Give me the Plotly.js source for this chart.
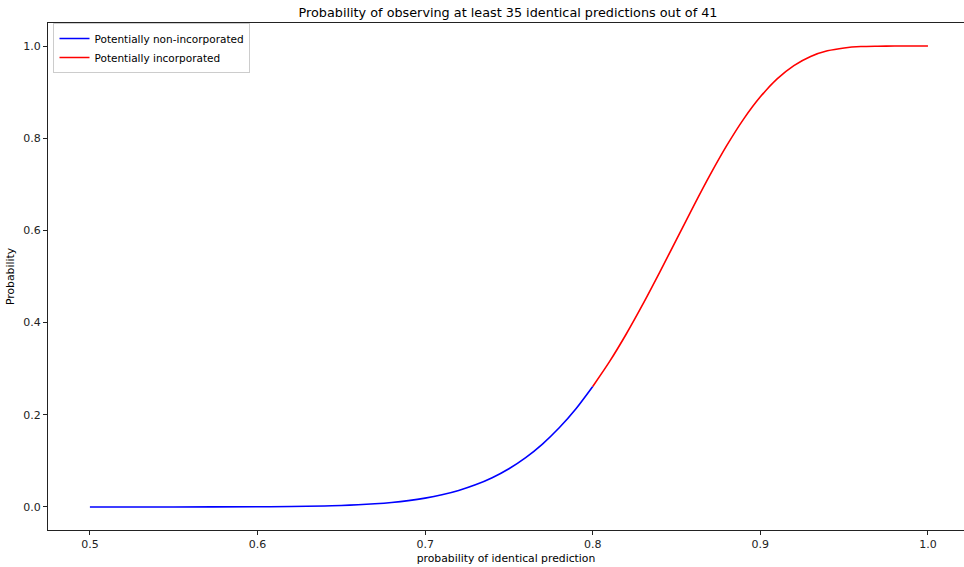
<!DOCTYPE html>
<html>
<head>
<meta charset="utf-8">
<script src="https://cdn.plot.ly/plotly-3.0.1.min.js"></script>
<style>html,body{margin:0;padding:0;background:#fff;}#chart{width:964px;height:567px;}</style>
</head>
<body>
<div id="chart"></div>
<script>
// probability of identical prediction (x) and probability of >=35 of 41 (y)
const pLow = [0.50, 0.55, 0.60, 0.62, 0.64, 0.65, 0.66, 0.67, 0.68, 0.69, 0.70, 0.71, 0.72, 0.73, 0.74, 0.75, 0.76, 0.77, 0.78, 0.79, 0.80];
const probLow = [0.0000024, 0.000038, 0.00042, 0.00099, 0.0022, 0.0033, 0.0048, 0.0069, 0.0098, 0.0138, 0.0192, 0.0264, 0.0358, 0.0480, 0.0635, 0.0830, 0.1071, 0.1365, 0.1717, 0.2131, 0.2614];
const pHigh = [0.80, 0.81, 0.82, 0.83, 0.84, 0.85, 0.86, 0.87, 0.88, 0.89, 0.90, 0.91, 0.92, 0.93, 0.94, 0.95, 0.96, 0.97, 0.98, 0.99, 1.00];
const probHigh = [0.2614, 0.3152, 0.3753, 0.4405, 0.5095, 0.5805, 0.6516, 0.7203, 0.7843, 0.8415, 0.8898, 0.9287, 0.9576, 0.9775, 0.9896, 0.9959, 0.9989, 0.9997, 1.0000, 1.0000, 1.0000];
const seriesNames = ["Potentially non-incorporated", "Potentially incorporated"];
const xTicks = [0.5, 0.6, 0.7, 0.8, 0.9, 1.0];
const yTicks = [0.0, 0.2, 0.4, 0.6, 0.8, 1.0];

const font = "DejaVu Sans, sans-serif";
const traces = [
  {x: pLow, y: probLow, name: seriesNames[0], mode: "lines", line: {color: "#0000ff", width: 1.6, shape: "spline", smoothing: 0.8}},
  {x: pHigh, y: probHigh, name: seriesNames[1], mode: "lines", line: {color: "#ff0000", width: 1.6, shape: "spline", smoothing: 0.8}}
];
const axisBase = {
  showgrid: false, zeroline: false, showline: true, linecolor: "#222", linewidth: 1,
  ticks: "outside", ticklen: 4, tickcolor: "#222", tickwidth: 1,
  tickfont: {family: font, size: 11, color: "#222"}, tickformat: ".1f"
};
const layout = {
  width: 964, height: 567,
  margin: {l: 48, r: 0, t: 23, b: 37},
  paper_bgcolor: "#fff", plot_bgcolor: "#fff",
  font: {family: font, color: "#000"},
  title: {text: "Probability of observing at least 35 identical predictions out of 41", font: {family: font, size: 12.8, color: "#000"}, x: 0.527, xanchor: "center", y: 0.978, yanchor: "middle"},
  xaxis: Object.assign({}, axisBase, {mirror: true, range: [0.475, 1.0215], tickvals: xTicks, title: {text: "probability of identical prediction", font: {family: font, size: 10.8}, standoff: 4}}),
  yaxis: Object.assign({}, axisBase, {mirror: false, range: [-0.05, 1.05], tickvals: yTicks, title: {text: "Probability", font: {family: font, size: 10.8}, standoff: 6}}),
  showlegend: true,
  legend: {x: 0.006, y: 1.0, xanchor: "left", yanchor: "top", bgcolor: "rgba(255,255,255,0.8)", bordercolor: "#cccccc", borderwidth: 1, font: {family: font, size: 10.5, color: "#000"}, tracegroupgap: 0, itemwidth: 30}
};
Plotly.newPlot("chart", traces, layout, {displayModeBar: false, staticPlot: true});
</script>
</body>
</html>
